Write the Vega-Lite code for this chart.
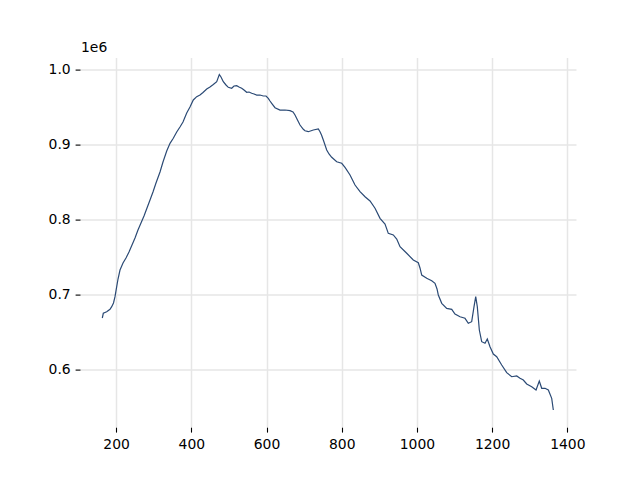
{
  "$schema": "https://vega.github.io/schema/vega-lite/v6.json",
  "width": 496,
  "height": 369.6,
  "autosize": {"type": "none"},
  "padding": {"left": 80, "top": 57.6, "right": 64, "bottom": 52.8},
  "background": "white",
  "config": {
    "view": {"stroke": null},
    "font": "DejaVu Sans",
    "axis": {
      "domain": false,
      "grid": true,
      "gridColor": "#e6e6e6",
      "gridWidth": 1.5,
      "tickColor": "#000000",
      "tickWidth": 1.1,
      "tickSize": 4.9,
      "labelPadding": 4.9,
      "labelFont": "DejaVu Sans",
      "labelFontSize": 13.9,
      "labelColor": "#000000",
      "title": null
    }
  },
  "title": {
    "text": "1e6",
    "anchor": "start",
    "frame": "group",
    "baseline": "alphabetic",
    "font": "DejaVu Sans",
    "fontSize": 13.9,
    "fontWeight": "normal",
    "color": "#000000",
    "offset": 5,
    "dx": 1,
    "dy": 13
  },
  "data": {
    "values": [
      {"x": 163.3, "y": 668400}, {"x": 166.0, "y": 674700}, {"x": 175.0, "y": 676800},
      {"x": 183.8, "y": 680000}, {"x": 188.3, "y": 683500}, {"x": 193.1, "y": 688400},
      {"x": 197.1, "y": 696800}, {"x": 201.6, "y": 710100}, {"x": 205.1, "y": 720400},
      {"x": 210.4, "y": 732400}, {"x": 218.4, "y": 741700}, {"x": 226.3, "y": 748400},
      {"x": 234.3, "y": 756400}, {"x": 242.3, "y": 765700}, {"x": 250.3, "y": 775100},
      {"x": 258.2, "y": 785700}, {"x": 266.2, "y": 795100}, {"x": 274.2, "y": 804400},
      {"x": 282.2, "y": 815100}, {"x": 290.2, "y": 825700}, {"x": 298.1, "y": 836400},
      {"x": 306.1, "y": 848400}, {"x": 316.8, "y": 863100}, {"x": 324.7, "y": 876400},
      {"x": 334.6, "y": 891100}, {"x": 343.4, "y": 901300}, {"x": 352.1, "y": 908000},
      {"x": 361.2, "y": 916400}, {"x": 369.9, "y": 923100}, {"x": 377.9, "y": 929700},
      {"x": 387.8, "y": 941700}, {"x": 396.5, "y": 949700}, {"x": 405.3, "y": 959100},
      {"x": 414.4, "y": 963500}, {"x": 423.1, "y": 965700}, {"x": 431.1, "y": 969100},
      {"x": 441.0, "y": 973700}, {"x": 449.7, "y": 976400}, {"x": 458.5, "y": 979700},
      {"x": 467.6, "y": 983500}, {"x": 474.5, "y": 993100}, {"x": 479.0, "y": 989700},
      {"x": 485.1, "y": 983500}, {"x": 492.3, "y": 979100}, {"x": 498.4, "y": 976000},
      {"x": 507.4, "y": 974700}, {"x": 513.6, "y": 977700}, {"x": 520.7, "y": 978100},
      {"x": 526.9, "y": 976400}, {"x": 534.0, "y": 974700}, {"x": 540.2, "y": 972400},
      {"x": 547.3, "y": 969300}, {"x": 553.5, "y": 969700}, {"x": 560.6, "y": 968000},
      {"x": 566.8, "y": 967100}, {"x": 573.9, "y": 965700}, {"x": 582.7, "y": 965700},
      {"x": 591.5, "y": 964400}, {"x": 598.7, "y": 964400}, {"x": 604.8, "y": 961300},
      {"x": 609.3, "y": 957700}, {"x": 613.8, "y": 954700}, {"x": 622.6, "y": 948800},
      {"x": 635.9, "y": 945700}, {"x": 649.2, "y": 945700}, {"x": 662.5, "y": 944800},
      {"x": 670.5, "y": 943100}, {"x": 675.8, "y": 939100}, {"x": 682.4, "y": 932400},
      {"x": 689.1, "y": 925700}, {"x": 697.9, "y": 920000}, {"x": 702.4, "y": 918100},
      {"x": 711.2, "y": 916800}, {"x": 724.5, "y": 919100}, {"x": 737.8, "y": 920400},
      {"x": 742.3, "y": 916800}, {"x": 746.3, "y": 912400}, {"x": 751.1, "y": 905700},
      {"x": 760.1, "y": 892400}, {"x": 766.2, "y": 887100}, {"x": 773.4, "y": 882700},
      {"x": 786.7, "y": 876800}, {"x": 800.0, "y": 874700}, {"x": 808.8, "y": 869300},
      {"x": 822.1, "y": 859100}, {"x": 835.4, "y": 845700}, {"x": 848.7, "y": 836800},
      {"x": 862.0, "y": 830100}, {"x": 875.3, "y": 824400}, {"x": 888.6, "y": 814700},
      {"x": 901.9, "y": 801300}, {"x": 915.2, "y": 793700}, {"x": 923.9, "y": 781300},
      {"x": 937.2, "y": 779100}, {"x": 946.3, "y": 773700}, {"x": 955.1, "y": 763500},
      {"x": 972.9, "y": 754700}, {"x": 990.4, "y": 745700}, {"x": 1003.7, "y": 742100},
      {"x": 1008.2, "y": 735100}, {"x": 1012.8, "y": 725700}, {"x": 1026.1, "y": 721300},
      {"x": 1039.4, "y": 718100}, {"x": 1048.1, "y": 714700}, {"x": 1053.5, "y": 707100},
      {"x": 1056.9, "y": 699100}, {"x": 1066.0, "y": 688000}, {"x": 1079.3, "y": 681300},
      {"x": 1092.6, "y": 680000}, {"x": 1101.3, "y": 673700}, {"x": 1114.6, "y": 670100},
      {"x": 1127.9, "y": 668000}, {"x": 1136.7, "y": 661300}, {"x": 1145.7, "y": 663500},
      {"x": 1151.9, "y": 683500}, {"x": 1156.4, "y": 696800}, {"x": 1160.6, "y": 683500},
      {"x": 1166.0, "y": 652400}, {"x": 1172.3, "y": 636800}, {"x": 1181.1, "y": 634700},
      {"x": 1187.2, "y": 640400}, {"x": 1194.4, "y": 630100}, {"x": 1203.2, "y": 620400},
      {"x": 1212.2, "y": 616800}, {"x": 1225.5, "y": 605700}, {"x": 1238.8, "y": 595500},
      {"x": 1252.1, "y": 590100}, {"x": 1265.4, "y": 591100}, {"x": 1274.2, "y": 588000},
      {"x": 1283.0, "y": 585700}, {"x": 1292.0, "y": 580400}, {"x": 1305.3, "y": 576800},
      {"x": 1316.8, "y": 572400}, {"x": 1325.5, "y": 584400}, {"x": 1331.9, "y": 574700},
      {"x": 1340.7, "y": 574700}, {"x": 1349.5, "y": 572400}, {"x": 1358.5, "y": 561300},
      {"x": 1362.8, "y": 545700}
    ]
  },
  "mark": {"type": "line", "color": "#2b4a75", "strokeWidth": 1.2, "clip": true},
  "encoding": {
    "x": {
      "field": "x",
      "type": "quantitative",
      "scale": {"domain": [104, 1423.1], "nice": false, "zero": false},
      "axis": {"values": [200, 400, 600, 800, 1000, 1200, 1400], "format": "d", "labelFlush": false}
    },
    "y": {
      "field": "y",
      "type": "quantitative",
      "scale": {"domain": [522800, 1015600], "nice": false, "zero": false},
      "axis": {
        "values": [600000, 700000, 800000, 900000, 1000000],
        "labelExpr": "format(datum.value / 1000000, '.1f')",
        "labelFlush": false
      }
    }
  }
}
